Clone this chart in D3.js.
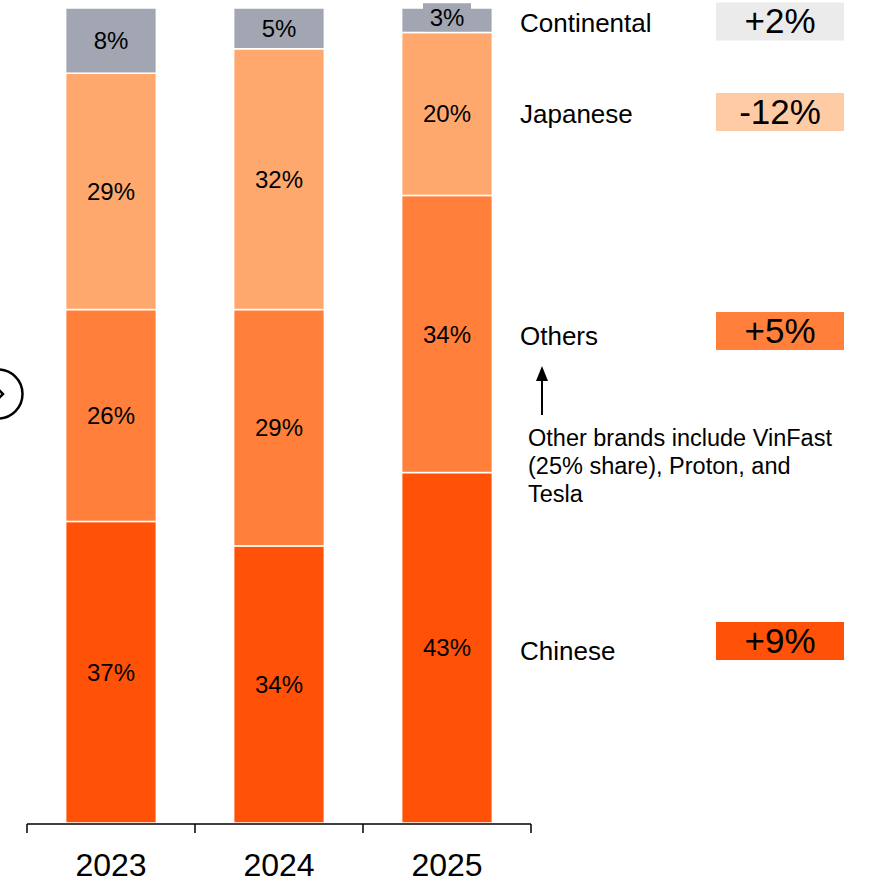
<!DOCTYPE html>
<html>
<head>
<meta charset="utf-8">
<script src="https://cdn.jsdelivr.net/npm/d3@7"></script>
<style>
  html, body { margin: 0; padding: 0; background: #fff; }
  svg { display: block; font-family: "Liberation Sans", Arial, sans-serif; }
</style>
</head>
<body>
<svg id="chart" width="869" height="879"></svg>
<script>
// Market share by brand origin, stacked bottom-to-top
const years = ["2023", "2024", "2025"];
const segments = ["Chinese", "Others", "Japanese", "Continental"];
const chinese = [37, 34, 43];
const others = [26, 29, 34];
const japanese = [29, 32, 20];
const continental = [8, 5, 3];
const changes = ["+9%", "+5%", "-12%", "+2%"];
const note = ["Other brands include VinFast", "(25% share), Proton, and", "Tesla"];

const fills = { Chinese: "#FF5208", Others: "#FF7F3B", Japanese: "#FFA86E", Continental: "#A2A6B2" };
const changeFills = { Chinese: "#FF5208", Others: "#FF7F3B", Japanese: "#FFCBA5", Continental: "#EBEBEB" };

const rows = years.map((y, i) => ({
  year: y, Chinese: chinese[i], Others: others[i], Japanese: japanese[i], Continental: continental[i]
}));
const stacked = d3.stack().keys(segments)(rows);

const svg = d3.select("#chart");
const x = d3.scaleBand().domain(years).range([27, 531]).paddingInner(0.46).paddingOuter(0.23);
const y = d3.scaleLinear().domain([0, 100]).range([823, 8]);

// Bars
const layer = svg.append("g").selectAll("g").data(stacked).join("g")
  .attr("fill", d => fills[d.key]);
layer.selectAll("rect").data(d => d.map(v => ({ key: d.key, v }))).join("rect")
  .attr("x", d => x(d.v.data.year))
  .attr("width", x.bandwidth())
  .attr("y", d => y(d.v[1]))
  .attr("height", d => y(d.v[0]) - y(d.v[1]))
  .attr("stroke", "#fff")
  .attr("stroke-width", 1.5);

// Segment value labels
stacked.forEach(s => {
  s.forEach(v => {
    const val = v[1] - v[0];
    const cx = x(v.data.year) + x.bandwidth() / 2;
    const cy = (y(v[0]) + y(v[1])) / 2;
    if (val <= 3) {
      // small segment: label sits on its own tag
      svg.append("rect").attr("x", cx - 24).attr("y", cy - 17).attr("width", 48).attr("height", 28)
        .attr("fill", fills[s.key]);
      svg.append("text").attr("x", cx).attr("y", cy - 3).attr("text-anchor", "middle")
        .attr("dominant-baseline", "central").attr("font-size", 24).attr("fill", "#000")
        .text(val + "%");
    } else {
      svg.append("text").attr("x", cx).attr("y", cy).attr("text-anchor", "middle")
        .attr("dominant-baseline", "central").attr("font-size", 24).attr("fill", "#000")
        .text(val + "%");
    }
  });
});

// Category axis
const axis = d3.axisBottom(x).tickSize(0).tickPadding(29);
const ax = svg.append("g").attr("transform", "translate(0,824)").call(axis);
ax.select(".domain").remove();
ax.selectAll("text").attr("font-size", 32).attr("fill", "#000")
  .attr("font-family", "Liberation Sans, Arial, sans-serif");
svg.append("line").attr("x1", 27).attr("x2", 531).attr("y1", 824).attr("y2", 824)
  .attr("stroke", "#000").attr("stroke-width", 1.5);
const step = x.step();
d3.range(4).forEach(i => {
  const tx = 27 + i * step;
  svg.append("line").attr("x1", tx).attr("x2", tx).attr("y1", 824).attr("y2", 833)
    .attr("stroke", "#000").attr("stroke-width", 1.5);
});

// Segment names and change tags
const labelY = { Chinese: 651, Others: 336, Japanese: 114, Continental: 23 };
const tagY = { Chinese: 641, Others: 331, Japanese: 112, Continental: 21.5 };
segments.forEach((k, i) => {
  svg.append("text").attr("x", 520).attr("y", labelY[k]).attr("dominant-baseline", "central")
    .attr("font-size", 26).attr("fill", "#000").text(k);
  const ty = tagY[k];
  svg.append("rect").attr("x", 716).attr("y", ty - 19).attr("width", 128).attr("height", 38)
    .attr("fill", changeFills[k]);
  svg.append("text").attr("x", 780).attr("y", ty - 1).attr("text-anchor", "middle")
    .attr("dominant-baseline", "central").attr("font-size", 35).attr("fill", "#000").text(changes[i]);
});

// Annotation for the Others segment
svg.append("line").attr("x1", 542).attr("x2", 542).attr("y1", 415).attr("y2", 380)
  .attr("stroke", "#000").attr("stroke-width", 2);
svg.append("path").attr("d", "M542,366 L536,381 L548,381 Z").attr("fill", "#000");
svg.append("g").selectAll("text").data(note).join("text")
  .attr("x", 528).attr("y", (d, i) => 438 + i * 28).attr("dominant-baseline", "central")
  .attr("font-size", 23.5).attr("fill", "#000").text(d => d);

// Navigation marker at the left edge
svg.append("circle").attr("cx", -2).attr("cy", 394).attr("r", 24.5)
  .attr("fill", "none").attr("stroke", "#000").attr("stroke-width", 2.5);
svg.append("path").attr("d", "M-4,387 L3,394 L-4,401").attr("fill", "none")
  .attr("stroke", "#000").attr("stroke-width", 2.5);
</script>
</body>
</html>
